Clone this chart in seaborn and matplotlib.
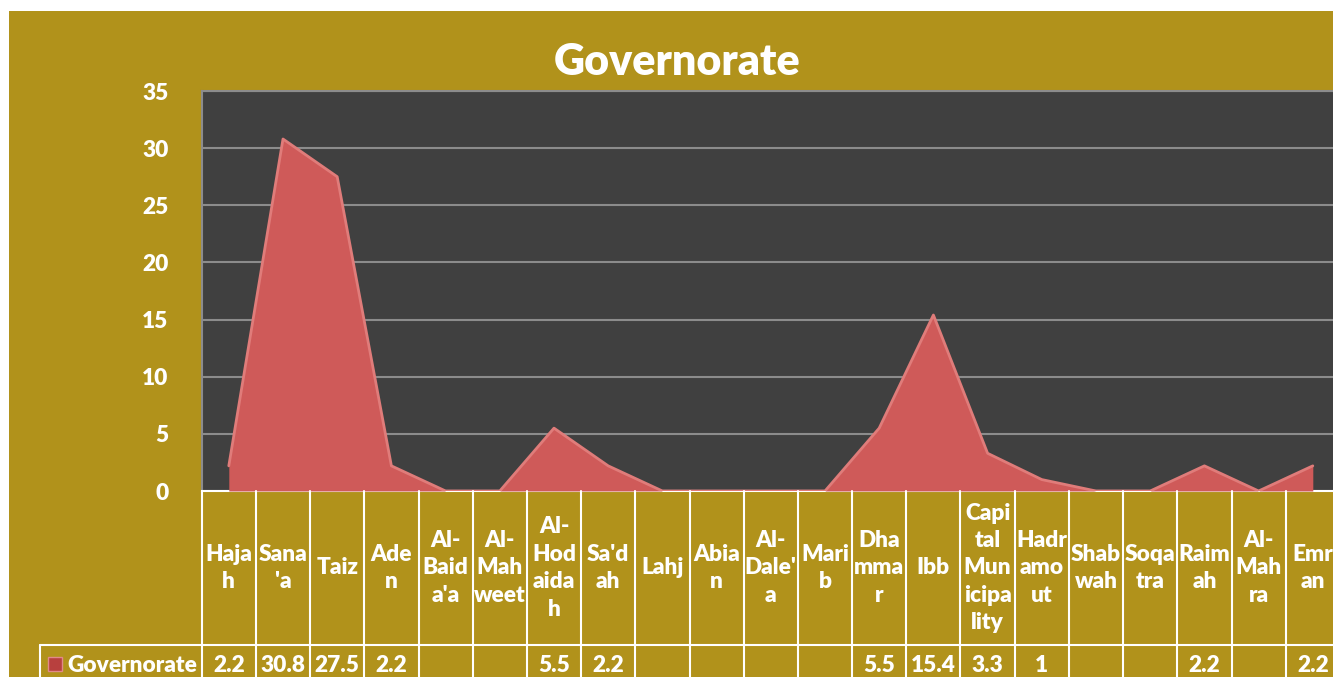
"""
Governorate distribution chart: area series over a dark plot area,
with an Excel-style data table underneath.
"""

import numpy as np
import pandas as pd
import matplotlib
matplotlib.use("Agg")
import matplotlib.pyplot as plt
import matplotlib.transforms as mtrans
from matplotlib.lines import Line2D
from matplotlib.patches import Rectangle
import seaborn as sns


# ── Data ──────────────────────────────────────────────────────────────────────

categories = [
    "Hajah", "Sana'a", "Taiz", "Aden", "Al-Baida'a", "Al-Mahweet",
    "Al-Hodaidah", "Sa'dah", "Lahj", "Abian", "Al-Dale'a", "Marib",
    "Dhammar", "Ibb", "Capital Municipality", "Hadramout", "Shabwah",
    "Soqatra", "Raimah", "Al-Mahra", "Emran",
]
# header text exactly as wrapped in the table cells
header_labels = [
    "Haja\nh", "Sana\n'a", "Taiz", "Ade\nn", "Al-\nBaid\na'a", "Al-\nMah\nweet",
    "Al-\nHod\naida\nh", "Sa'd\nah", "Lahj", "Abia\nn", "Al-\nDale'\na", "Mari\nb",
    "Dha\nmma\nr", "Ibb", "Capi\ntal\nMun\nicipa\nlity", "Hadr\namo\nut", "Shab\nwah",
    "Soqa\ntra", "Raim\nah", "Al-\nMah\nra", "Emr\nan",
]
values = [
    2.2, 30.8, 27.5, 2.2, None, None,
    5.5, 2.2, None, None, None, None,
    5.5, 15.4, 3.3, 1, None, None,
    2.2, None, 2.2,
]
y_ticks = [0, 5, 10, 15, 20, 25, 30, 35]
series_name = "Governorate"
chart_title = "Governorate"

GOLD = "#B1921B"
PLOT_BG = "#404040"
GRID = "#8C8C8C"
AREA = "#CF5A59"
AREA_EDGE = "#E07C7A"
FW = "heavy"
FS = 16.3

W, H = 1333, 677


def fx(px):
    return px / W


def fy(py):
    return (H - py) / H


# ── Figure ────────────────────────────────────────────────────────────────────

sns.set_theme(style="dark")
plt.rcParams["font.family"] = ["Lato", "DejaVu Sans"]

fig = plt.figure(figsize=(W / 100, H / 100), dpi=100, facecolor="white")
fig.add_artist(Rectangle((fx(9), 0), 1, fy(11), transform=fig.transFigure,
                         facecolor=GOLD, edgecolor="none", zorder=-10))

col_w = 54.2
ax = fig.add_axes([fx(201.7), fy(491), 21 * col_w / W, fy(91) - fy(491)])
ax.set_facecolor(PLOT_BG)

df = pd.DataFrame({
    "pos": np.arange(len(categories)),
    "category": categories,
    "value": [0.0 if v is None else v for v in values],  # blanks plotted as zero
})

ax.fill_between(df["pos"], 0, df["value"], color=AREA, linewidth=0, zorder=3)
sns.lineplot(data=df, x="pos", y="value", ax=ax, color=AREA_EDGE,
             linewidth=2, zorder=4)

ax.set_xlim(-0.5, len(categories) - 0.5)
ax.set_ylim(0, 35)
ax.set_yticks(y_ticks)
ax.set_xticks([])
ax.set_xlabel("")
ax.set_ylabel("")
ax.yaxis.grid(True, color=GRID, linewidth=1.5, zorder=1)
ax.xaxis.grid(False)
ax.set_axisbelow(True)
ax.tick_params(axis="y", length=0, pad=24, labelsize=FS, labelcolor="white")
for lab in ax.get_yticklabels():
    lab.set_fontweight(FW)
for side in ("left", "top", "right"):
    ax.spines[side].set_color(GRID)
    ax.spines[side].set_linewidth(1.5)
ax.spines["bottom"].set_color("white")
ax.spines["bottom"].set_linewidth(1.5)

fig.text(0.508, fy(62), chart_title, ha="center", va="center",
         fontsize=31, fontweight=FW, color="white")

# ── Data table ────────────────────────────────────────────────────────────────

trans = mtrans.blended_transform_factory(ax.transData, fig.transFigure)
head_top, head_bot = fy(491), fy(645)
row_y = fy(665)

for i in range(len(categories) + 1):
    fig.add_artist(Line2D([i - 0.5, i - 0.5], [head_top, -0.05], transform=trans,
                          color="white", linewidth=1.5))
fig.add_artist(Line2D([fx(40), 1.0], [head_bot, head_bot], transform=fig.transFigure,
                      color="white", linewidth=1.5))
fig.add_artist(Line2D([fx(40), fx(40)], [head_bot, -0.05], transform=fig.transFigure,
                      color="white", linewidth=1.5))

for i, (lab, v) in enumerate(zip(header_labels, values)):
    fig.text(i, (head_top + head_bot) / 2, lab, transform=trans, ha="center",
             va="center", fontsize=FS, fontweight=FW, color="white",
             linespacing=1.38)
    if v is not None:
        fig.text(i, row_y, f"{v:g}", transform=trans, ha="center", va="center",
                 fontsize=FS, fontweight=FW, color="white")

# legend key
fig.add_artist(Rectangle((fx(48), fy(671)), fx(14), 14 / H, transform=fig.transFigure,
                         facecolor="#B8403E", edgecolor="#E08A88", linewidth=1))
fig.text(fx(67), row_y, series_name, ha="left", va="center",
         fontsize=FS, fontweight=FW, color="white")

fig.savefig("out.png", dpi=100, facecolor=fig.get_facecolor())
